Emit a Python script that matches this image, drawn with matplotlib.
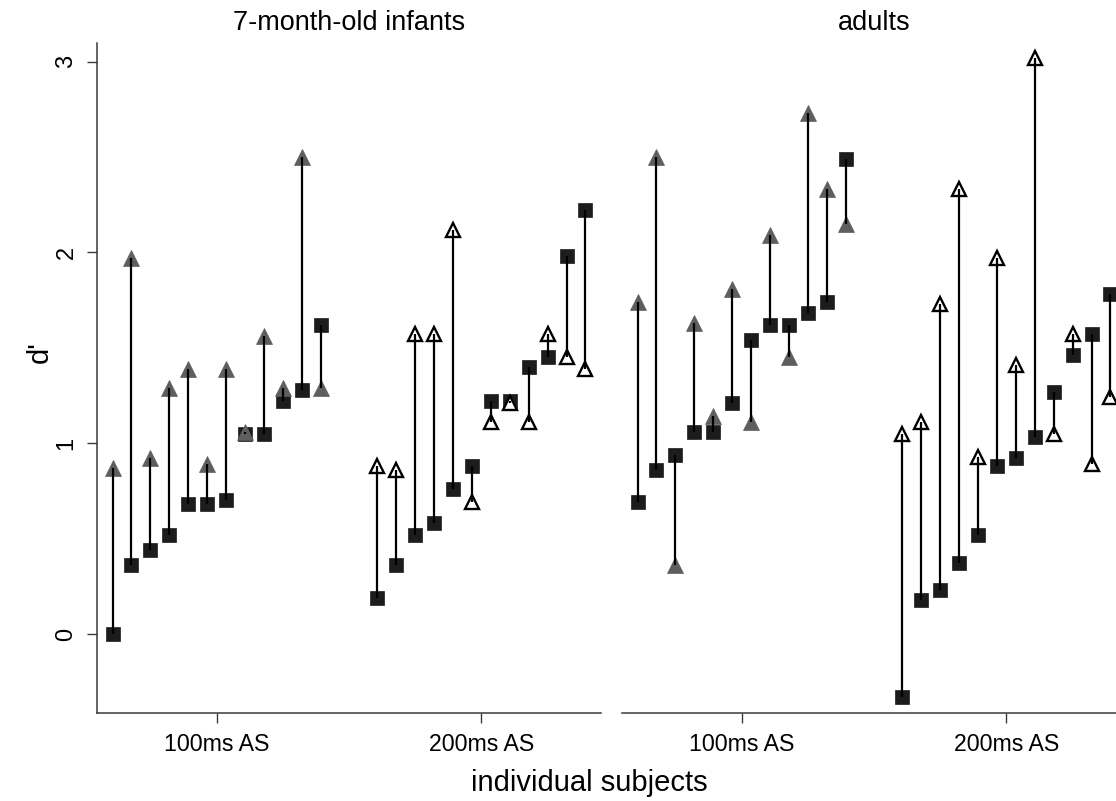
import numpy as np
import matplotlib
matplotlib.use("Agg")
import matplotlib.pyplot as plt

plt.rcParams["font.family"] = ["Liberation Sans", "DejaVu Sans"]

# d' per subject: squares = one condition, triangles = the other
GROUPS = ["100ms AS", "200ms AS"]
PANELS = ["7-month-old infants", "adults"]

inf_100_sq = [0.00, 0.36, 0.44, 0.52, 0.68, 0.68, 0.70, 1.05, 1.05, 1.22, 1.28, 1.62]
inf_100_tri = [0.87, 1.97, 0.92, 1.29, 1.39, 0.89, 1.39, 1.06, 1.56, 1.29, 2.50, 1.29]
inf_200_sq = [0.19, 0.36, 0.52, 0.58, 0.76, 0.88, 1.22, 1.22, 1.40, 1.45, 1.98, 2.22]
inf_200_tri = [0.88, 0.86, 1.57, 1.57, 2.12, 0.69, 1.11, 1.21, 1.11, 1.57, 1.45, 1.39]

ad_100_sq = [0.69, 0.86, 0.94, 1.06, 1.06, 1.21, 1.54, 1.62, 1.62, 1.68, 1.74, 2.49]
ad_100_tri = [1.74, 2.50, 0.36, 1.63, 1.14, 1.81, 1.11, 2.09, 1.45, 2.73, 2.33, 2.15]
ad_200_sq = [-0.33, 0.18, 0.23, 0.37, 0.52, 0.88, 0.92, 1.03, 1.27, 1.46, 1.57, 1.78]
ad_200_tri = [1.05, 1.11, 1.73, 2.33, 0.93, 1.97, 1.41, 3.02, 1.05, 1.57, 0.89, 1.24]

Y_TICKS = [0, 1, 2, 3]

W, H = 1116, 801
fig = plt.figure(figsize=(W / 100, H / 100), dpi=100)
fig.patch.set_facecolor("white")

SQ_COL = "#1c1c1c"
GRAY = "#5e5e5e"
AX_COL = "#3a3a3a"


def px_axes(x0, x1, y_top, y_bot):
    return fig.add_axes([x0 / W, 1 - y_bot / H, (x1 - x0) / W, (y_bot - y_top) / H])


def draw_panel(ax, sq100, tri100, sq200, tri200, show_y):
    x100 = np.arange(1, len(sq100) + 1)
    x200 = np.arange(15, 15 + len(sq200))
    for xs, sq, tri, hollow in [(x100, sq100, tri100, False), (x200, sq200, tri200, True)]:
        ax.plot(xs, sq, "s", ms=10.3, mfc=SQ_COL, mec=SQ_COL, mew=0.5, zorder=2, clip_on=False)
        if hollow:
            ax.plot(xs, tri, "^", ms=10.5, mfc="white", mec="black", mew=1.7, zorder=3, clip_on=False)
        else:
            ax.plot(xs, tri, "^", ms=11.5, mfc=GRAY, mec=GRAY, mew=0.5, zorder=3, clip_on=False)
        ax.vlines(xs, sq, tri, colors="black", lw=1.6, zorder=4)

    ax.set_xlim(0.18, 26.82)
    ax.set_ylim(-0.416, 3.095)
    ax.set_xticks([6.5, 20.5])
    ax.set_xticklabels(GROUPS, fontsize=16.7)
    for s in ["top", "right"]:
        ax.spines[s].set_visible(False)
    ax.spines["bottom"].set_color(AX_COL)
    ax.spines["bottom"].set_linewidth(1.1)
    ax.tick_params(axis="x", direction="out", length=7, width=1.0, color=AX_COL, pad=7)
    if show_y:
        ax.spines["left"].set_color(AX_COL)
        ax.spines["left"].set_linewidth(1.1)
        ax.set_yticks(Y_TICKS)
        ax.set_yticklabels([str(v) for v in Y_TICKS], fontsize=17, rotation=90, va="center")
        ax.tick_params(axis="y", direction="out", length=7, width=1.0, color=AX_COL, pad=7)
    else:
        ax.spines["left"].set_visible(False)
        ax.set_yticks([])


ax1 = px_axes(97, 601, 43.5, 713.3)
draw_panel(ax1, inf_100_sq, inf_100_tri, inf_200_sq, inf_200_tri, True)
ax2 = px_axes(622, 1126, 43.5, 713.3)
draw_panel(ax2, ad_100_sq, ad_100_tri, ad_200_sq, ad_200_tri, False)

fig.text(349 / W, 1 - 23 / H, PANELS[0], ha="center", va="center", fontsize=19.5)
fig.text(874 / W, 1 - 23 / H, PANELS[1], ha="center", va="center", fontsize=19.5)
fig.text(40 / W, 1 - 352 / H, "d'", ha="center", va="center", rotation=90, fontsize=21)
fig.text(589 / W, 1 - 783 / H, "individual subjects", ha="center", va="center", fontsize=21)

fig.savefig("out.png", dpi=100, facecolor="white")
